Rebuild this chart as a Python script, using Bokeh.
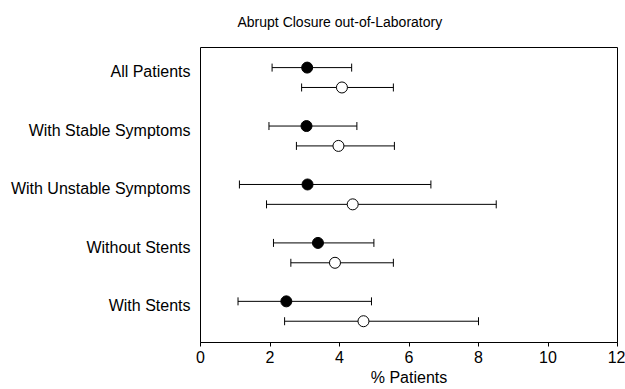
from bokeh.plotting import figure
from bokeh.models import ColumnDataSource, Range1d, FixedTicker, Whisker, TeeHead, Title
from bokeh.embed import file_html
from bokeh.resources import INLINE

categories = ["All Patients", "With Stable Symptoms", "With Unstable Symptoms",
              "Without Stents", "With Stents"]
filled_mid = [3.07, 3.05, 3.08, 3.38, 2.47]
filled_low = [2.06, 1.97, 1.12, 2.10, 1.08]
filled_high = [4.35, 4.50, 6.63, 4.99, 4.92]
open_mid = [4.07, 3.97, 4.38, 3.87, 4.69]
open_low = [2.91, 2.76, 1.90, 2.60, 2.42]
open_high = [5.55, 5.58, 8.51, 5.55, 8.00]
x_ticks = [0, 2, 4, 6, 8, 10, 12]

FONT = "Liberation Sans"
n = len(categories)
centers = [n - i for i in range(n)]
off = 0.17

src_f = ColumnDataSource(dict(y=[c + off for c in centers], x=filled_mid,
                              lo=filled_low, hi=filled_high))
src_o = ColumnDataSource(dict(y=[c - off for c in centers], x=open_mid,
                              lo=open_low, hi=open_high))

p = figure(width=625, height=389, output_backend="svg", toolbar_location=None,
           x_range=Range1d(0, 12), y_range=Range1d(0.466, 5.514),
           min_border_left=200, min_border_right=8, min_border_top=47,
           min_border_bottom=47, title="Abrupt Closure out-of-Laboratory")
p.grid.visible = False
p.outline_line_color = "black"
p.outline_line_width = 1
p.outline_line_alpha = 1

# spacer above the frame to lift the title
p.add_layout(Title(text=" ", text_font_size="10px", standoff=0), "above")

p.title.text_font = FONT
p.title.text_font_size = "14px"
p.title.text_font_style = "normal"
p.title.text_color = "black"
p.title.align = "left"
p.title.offset = 37

for src in (src_f, src_o):
    w = Whisker(source=src, base="y", lower="lo", upper="hi", dimension="width",
                line_color="black", line_width=1,
                lower_head=TeeHead(size=8, line_color="black", line_width=1),
                upper_head=TeeHead(size=8, line_color="black", line_width=1))
    p.add_layout(w)

p.scatter("x", "y", source=src_f, size=11, fill_color="black", line_color="black")
p.scatter("x", "y", source=src_o, size=11, fill_color="white", line_color="black",
          line_width=1)

xa = p.xaxis[0]
xa.ticker = FixedTicker(ticks=x_ticks)
xa.axis_label = "% Patients"
xa.axis_label_text_font = FONT
xa.axis_label_text_font_size = "16px"
xa.axis_label_text_font_style = "normal"
xa.axis_label_text_color = "black"
xa.axis_label_standoff = 3
xa.major_label_text_font = FONT
xa.major_label_text_font_size = "16px"
xa.major_label_text_color = "black"
xa.major_tick_in = 0
xa.major_tick_out = 4
xa.minor_tick_out = 0
xa.minor_tick_in = 0
xa.axis_line_color = "black"
xa.major_tick_line_color = "black"
xa.major_label_standoff = 4

label_pos = [c + 0.1 for c in centers]
ya = p.yaxis[0]
ya.ticker = FixedTicker(ticks=label_pos)
ya.major_label_overrides = {pos: name for pos, name in zip(label_pos, categories)}
ya.major_label_text_font = FONT
ya.major_label_text_font_size = "16px"
ya.major_label_text_color = "black"
ya.major_tick_in = 0
ya.major_tick_out = 0
ya.minor_tick_in = 0
ya.minor_tick_out = 0
ya.axis_line_color = None
ya.major_label_standoff = 10

open("out.html", "w").write(file_html(p, INLINE))
